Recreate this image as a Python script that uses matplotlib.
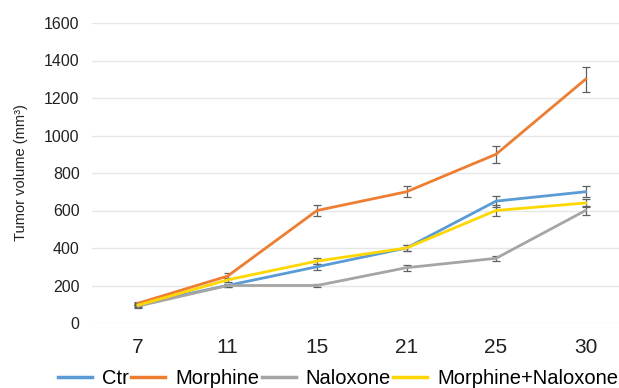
import numpy as np
import matplotlib.pyplot as plt
from matplotlib.lines import Line2D

plt.rcParams['font.family'] = ['Liberation Sans', 'DejaVu Sans']

days = ['7', '11', '15', '21', '25', '30']
ctr = [100, 200, 300, 400, 650, 700]
ctr_err = [8, 10, 15, 15, 30, 30]
morphine = [105, 250, 600, 700, 900, 1300]
morphine_err = [8, 15, 30, 30, 45, 67]
naloxone = [90, 200, 200, 295, 345, 600]
naloxone_err = [8, 10, 10, 15, 15, 25]
morph_nal = [95, 230, 330, 400, 600, 640]
morph_nal_err = [8, 12, 15, 15, 30, 20]

names = ['Ctr', 'Morphine', 'Naloxone', 'Morphine+Naloxone']
series = [ctr, morphine, naloxone, morph_nal]
errors = [ctr_err, morphine_err, naloxone_err, morph_nal_err]
colors = ['#5B9BD5', '#ED7D31', '#A5A5A5', '#FFD700']

fig = plt.figure(figsize=(6.19, 3.88), dpi=100)
ax = fig.add_axes([92/619, 65/388, 1 - 92/619, 300/388])

x = np.arange(len(days))
handles = []
for name, vals, err, c in zip(names, series, errors, colors):
    ax.errorbar(x, vals, yerr=err, color=c, lw=2,
                ecolor='#606060', elinewidth=0.9, capsize=3, capthick=0.9)
    handles.append(Line2D([], [], color=c, lw=2.5, label=name))

ax.set_xlim(-0.514, 5.374)
ax.set_ylim(0, 1600)
ax.set_yticks(range(0, 1601, 200))
ax.set_xticks(x)
ax.set_xticklabels(days)
ax.grid(axis='y', color='#E6E6E6', lw=1)
ax.set_axisbelow(True)
for s in ax.spines.values():
    s.set_visible(False)
ax.tick_params(axis='x', length=0, pad=11, labelsize=15, colors='#222222')
ax.tick_params(axis='y', length=0, pad=9, labelsize=11.5, colors='#222222')
ax.set_ylabel('Tumor volume (mm³)', fontsize=10.5, color='#222222')
ax.yaxis.set_label_coords(-0.122, 0.5)

fig.legend(handles=handles, loc='center left', bbox_to_anchor=(58/619, 9/388),
           ncol=4, frameon=False, borderpad=0, borderaxespad=0, fontsize=14.5,
           handlelength=1.7, handletextpad=0.5, columnspacing=0.1)

fig.savefig('out.png', dpi=100)
